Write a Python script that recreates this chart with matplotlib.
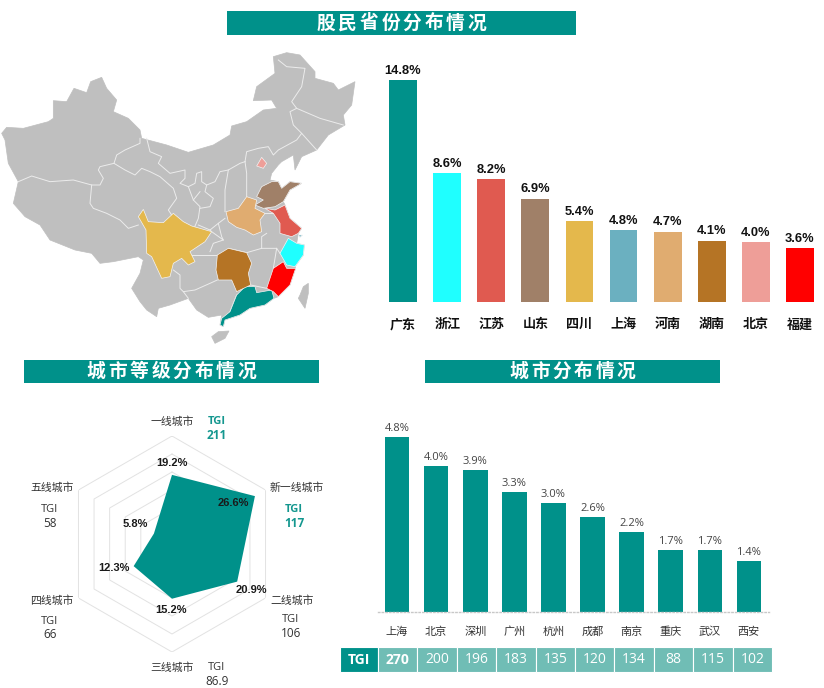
import numpy as np
import matplotlib
matplotlib.use('Agg')
import matplotlib.pyplot as plt
from matplotlib.patches import Polygon, Rectangle

plt.rcParams['font.family'] = ['Open Sans', 'Noto Sans CJK SC', 'DejaVu Sans']

W, H = 824, 688
TEAL = '#00918a'
GREY = '#bfbfbf'
DARK = '#333333'

# Provinces
prov_names = ['广东', '浙江', '江苏', '山东', '四川', '上海', '河南', '湖南', '北京', '福建']
prov_vals = [14.8, 8.6, 8.2, 6.9, 5.4, 4.8, 4.7, 4.1, 4.0, 3.6]
prov_cols = ['#00918a', '#1fffff', '#e05a50', '#a08068', '#e4b84c',
             '#6bb0c0', '#e0ac70', '#b57425', '#ee9e98', '#ff0000']

# City tiers
tier_names = ['一线城市', '新一线城市', '二线城市', '三线城市', '四线城市', '五线城市']
tier_vals = [19.2, 26.6, 20.9, 15.2, 12.3, 5.8]
tier_tgi = ['211', '117', '106', '86.9', '66', '58']
tier_highlight = [True, True, False, False, False, False]

# Cities
city_names = ['上海', '北京', '深圳', '广州', '杭州', '成都', '南京', '重庆', '武汉', '西安']
city_vals = [4.8, 4.0, 3.9, 3.3, 3.0, 2.6, 2.2, 1.7, 1.7, 1.4]
city_tgi = ['270', '200', '196', '183', '135', '120', '134', '88', '115', '102']

# Map outlines (map space: 1110 x 930)
china = [(5, 280), (20, 262), (70, 265), (145, 245), (160, 235), (160, 182), (200, 185), (222, 145),
         (260, 158), (272, 125), (305, 112), (320, 145), (350, 180), (340, 215), (385, 235), (420, 270),
         (425, 295), (500, 315), (565, 337), (640, 315), (690, 285), (695, 258), (740, 245), (790, 210),
         (830, 205), (815, 180), (760, 182), (770, 140), (825, 100), (820, 50), (860, 38), (900, 45),
         (945, 95), (945, 115), (1000, 130), (1015, 150), (1065, 125), (1055, 195), (1030, 225),
         (1035, 255), (985, 285), (950, 330), (905, 350), (885, 390), (880, 345), (845, 365), (835, 375),
         (815, 400), (810, 420), (835, 425), (845, 445), (870, 425), (905, 430), (870, 450), (850, 485),
         (855, 495), (870, 535), (905, 565), (895, 580), (890, 610), (913, 615), (910, 645), (885, 680),
         (887, 685), (870, 735), (835, 770), (822, 775), (795, 795), (750, 805), (720, 825), (675, 840),
         (670, 860), (660, 855), (665, 825), (625, 832), (590, 810), (565, 775), (510, 795), (475, 805),
         (470, 830), (440, 810), (420, 785), (395, 745), (420, 700), (430, 660), (415, 650), (340, 665),
         (300, 670), (275, 640), (225, 630), (150, 600), (120, 555), (75, 530), (40, 490), (55, 425),
         (25, 370), (15, 300)]
taiwan = [(900, 765), (910, 740), (925, 730), (925, 760), (915, 805), (895, 775)]
hainan = [(635, 890), (655, 875), (687, 873), (675, 895), (645, 910)]
shapes = {
    '四川': [(415, 530), (430, 508), (445, 545), (490, 548), (520, 520), (550, 545), (575, 558), (635, 575),
             (615, 605), (570, 635), (585, 665), (565, 675), (545, 655), (520, 670), (510, 710), (485, 715),
             (455, 650), (440, 640), (438, 570)],
    '湖南': [(652, 645), (685, 625), (740, 638), (755, 670), (745, 700), (752, 735), (710, 755), (695, 720),
             (655, 720), (648, 690)],
    '广东': [(710, 765), (735, 740), (765, 740), (770, 758), (815, 750), (822, 775), (795, 795), (750, 805),
             (720, 825), (675, 840), (670, 860), (660, 855), (665, 835), (690, 815)],
    '福建': [(800, 745), (820, 685), (850, 665), (860, 685), (887, 685), (870, 735), (835, 770), (820, 755)],
    '浙江': [(840, 640), (865, 595), (890, 610), (913, 615), (910, 645), (885, 680), (860, 675)],
    '上海': [(895, 585), (908, 585), (900, 592)],
    '江苏': [(795, 505), (825, 510), (855, 495), (870, 535), (905, 565), (895, 580), (875, 590), (840, 580),
             (840, 550), (820, 520)],
    '山东': [(770, 470), (785, 440), (815, 425), (835, 425), (845, 445), (870, 425), (905, 430), (870, 450),
             (850, 485), (825, 500), (790, 505), (765, 495), (790, 480)],
    '河南': [(678, 515), (715, 505), (740, 470), (770, 480), (765, 505), (795, 520), (780, 540), (785, 575),
             (760, 585), (735, 570), (710, 562), (685, 545)],
    '北京': [(770, 378), (785, 352), (800, 370), (790, 385)],
}
borders = [
    [(420, 295), (420, 310), (375, 330), (350, 345), (342, 370), (300, 380), (295, 390), (310, 415), (300, 435),
     (275, 435), (220, 420), (150, 425), (95, 408), (55, 425)],
    [(275, 435), (270, 490), (280, 505), (320, 520), (360, 540), (385, 565), (415, 555)],
    [(342, 370), (375, 390), (405, 405), (425, 385), (450, 395), (480, 410), (520, 445), (530, 475), (505, 510),
     (515, 525)],
    [(440, 295), (450, 335), (485, 350), (475, 370), (510, 400), (555, 390), (555, 415), (540, 430), (565, 440),
     (580, 480), (600, 500), (595, 535), (580, 570)],
    [(565, 440), (585, 430), (590, 400), (605, 395), (605, 425), (620, 435), (615, 455), (640, 475), (630, 500),
     (600, 505)],
    [(600, 455), (580, 480)],
    [(620, 435), (645, 425), (660, 395), (685, 390), (720, 370), (735, 365)],
    [(685, 390), (675, 450), (675, 515)],
    [(735, 365), (740, 400), (740, 470)],
    [(735, 365), (740, 335), (775, 325), (805, 320), (820, 345), (835, 330), (890, 300), (905, 280), (950, 330)],
    [(835, 60), (860, 80), (915, 85), (905, 140), (875, 185), (890, 205), (870, 215), (880, 255), (905, 280)],
    [(890, 205), (960, 235), (1030, 255)],
    [(630, 570), (655, 550), (675, 535)],
    [(595, 555), (630, 570), (635, 575), (670, 600), (640, 610), (630, 635)],
    [(575, 645), (630, 645), (652, 645)],
    [(520, 690), (540, 705), (540, 745), (550, 755), (585, 750), (630, 730), (652, 720)],
    [(550, 755), (565, 775)],
    [(685, 625), (740, 638), (785, 625), (830, 625), (840, 640)],
    [(785, 625), (785, 590), (800, 580)],
    [(830, 625), (820, 685)],
    [(710, 765), (690, 815)],
    [(655, 550), (665, 590), (670, 600)],
    [(752, 735), (800, 745)],
    [(795, 520), (820, 520)],
]


def px_axes(x0, y0, x1, y1, **kw):
    # axes from picture pixels (y going down)
    return fig.add_axes([x0 / W, 1 - y1 / H, (x1 - x0) / W, (y1 - y0) / H], **kw)


fig = plt.figure(figsize=(W / 100, H / 100), dpi=100, facecolor='white')

# Overlay for banners and free text
over = px_axes(0, 0, W, H)
over.set_xlim(0, W)
over.set_ylim(H, 0)
over.axis('off')
over.set_zorder(5)

banners = [(227, 11, 576, 35, '股民省份分布情况'),
           (24, 360, 319, 383, '城市等级分布情况'),
           (425, 360, 720, 383, '城市分布情况')]
for x0, y0, x1, y1, label in banners:
    over.add_patch(Rectangle((x0, y0), x1 - x0, y1 - y0, color=TEAL, lw=0))
    # title is letter-spaced, so one char at a time
    start = (x0 + x1) / 2 - 21.5 * (len(label) - 1) / 2
    for i, ch in enumerate(label):
        over.text(start + 21.5 * i, (y0 + y1) / 2, ch, color='white', fontsize=13.5, fontweight='bold',
                  ha='center', va='center', family=['Noto Sans CJK SC'])

# Map
ax_map = px_axes(0, 40, 370, 350)
ax_map.set_xlim(0, 1110)
ax_map.set_ylim(930, 0)
ax_map.axis('off')
for outline in [china, taiwan, hainan]:
    ax_map.add_patch(Polygon(outline, closed=True, fc=GREY, ec=GREY, lw=0.5))
for line in borders:
    ax_map.plot(*zip(*line), color='#ececec', lw=0.7)
for name, col in zip(prov_names, prov_cols):
    ax_map.add_patch(Polygon(shapes[name], closed=True, fc=col, ec='#f4f4f4', lw=0.5, zorder=3))

# Province bars
ax1 = px_axes(381, 70, 822, 302)
b = ax1.bar(range(10), prov_vals, width=0.63, color=prov_cols)
ax1.bar_label(b, fmt='%.1f%%', padding=2.5, fontsize=9.3, fontweight='bold', color='#111111', family=['Liberation Sans'])
ax1.set_xlim(-0.5, 9.5)
ax1.set_ylim(0, 232 / 15)
ax1.set_xticks(range(10), prov_names, fontsize=9.4, fontweight='bold', color='#111111',
               family=['Noto Sans CJK SC'])
ax1.set_yticks([])
ax1.tick_params(axis='x', length=0, pad=11)
for s in ax1.spines.values():
    s.set_visible(False)

# Radar
ax2 = px_axes(64, 436, 280, 652, projection='polar')
ax2.set_theta_zero_location('N')
ax2.set_theta_direction(-1)
ax2.set_ylim(0, 30)
ax2.axis('off')
theta = np.linspace(0, 2 * np.pi, len(tier_vals), endpoint=False)
theta_c = np.append(theta, theta[0])
for r in range(5, 35, 5):
    ax2.plot(theta_c, [r] * len(theta_c), color='#e2e2e2', lw=0.7, zorder=1)
ax2.fill(theta_c, tier_vals + tier_vals[:1], color=TEAL, lw=0, zorder=2)

name_pos = [(172, 422), (297, 488), (292, 601), (172, 668), (52, 601), (52, 488)]
tgi_pos = [(217, 422), (294, 510), (291, 620), (217, 668), (50, 621), (50, 510)]
val_pos = [(172, 463), (233, 503), (251, 590), (171, 610), (114, 568), (135, 524)]
for i in range(6):
    over.text(*name_pos[i], tier_names[i], fontsize=7.8, color=DARK, ha='center', va='center')
    col = '#14978f' if tier_highlight[i] else DARK
    wt = 'bold' if tier_highlight[i] else 'normal'
    over.text(tgi_pos[i][0], tgi_pos[i][1], 'TGI', fontsize=8, color=col, fontweight=wt, ha='center', va='center')
    over.text(tgi_pos[i][0], tgi_pos[i][1] + 13.5, tier_tgi[i], fontsize=8.5, color=col, fontweight=wt,
              ha='center', va='center')
    over.text(*val_pos[i], '%.1f%%' % tier_vals[i], fontsize=8, fontweight='bold', color='#1a1a1a',
              ha='center', va='center', family=['Liberation Sans'])

# City bars
ax3 = px_axes(377.5, 420, 768.5, 612)
b = ax3.bar(range(10), city_vals, width=0.63, color=TEAL)
ax3.bar_label(b, fmt='%.1f%%', padding=2, fontsize=8, color='#444444')
ax3.set_xlim(-0.5, 9.5)
ax3.set_ylim(0, 192 / 36.5)
ax3.set_xticks(range(10), city_names, fontsize=8, color=DARK)
ax3.set_yticks([])
ax3.tick_params(axis='x', length=0, pad=11)
for k in ['top', 'left', 'right']:
    ax3.spines[k].set_visible(False)
ax3.spines['bottom'].set_color('#c8c8c8')
ax3.spines['bottom'].set_linestyle(':')
ax3.spines['bottom'].set_linewidth(1)

# TGI row under the city bars
ax4 = px_axes(340, 647, 772, 672)
ax4.axis('off')
widths = [38 / 432] + [39.4 / 432] * 10
tab = ax4.table(cellText=[['TGI'] + city_tgi], colWidths=widths, cellLoc='center', bbox=[0, 0, 1, 1])
tab.auto_set_font_size(False)
for (r, c), cell in tab.get_celld().items():
    cell.set_edgecolor('white')
    cell.set_linewidth(0.8)
    cell.set_facecolor(TEAL if c == 0 else '#70bdb5')
    txt = cell.get_text()
    txt.set_color('white')
    txt.set_fontsize(10)
    if c <= 1:
        txt.set_fontweight('bold')

fig.savefig('out.png', dpi=100)
